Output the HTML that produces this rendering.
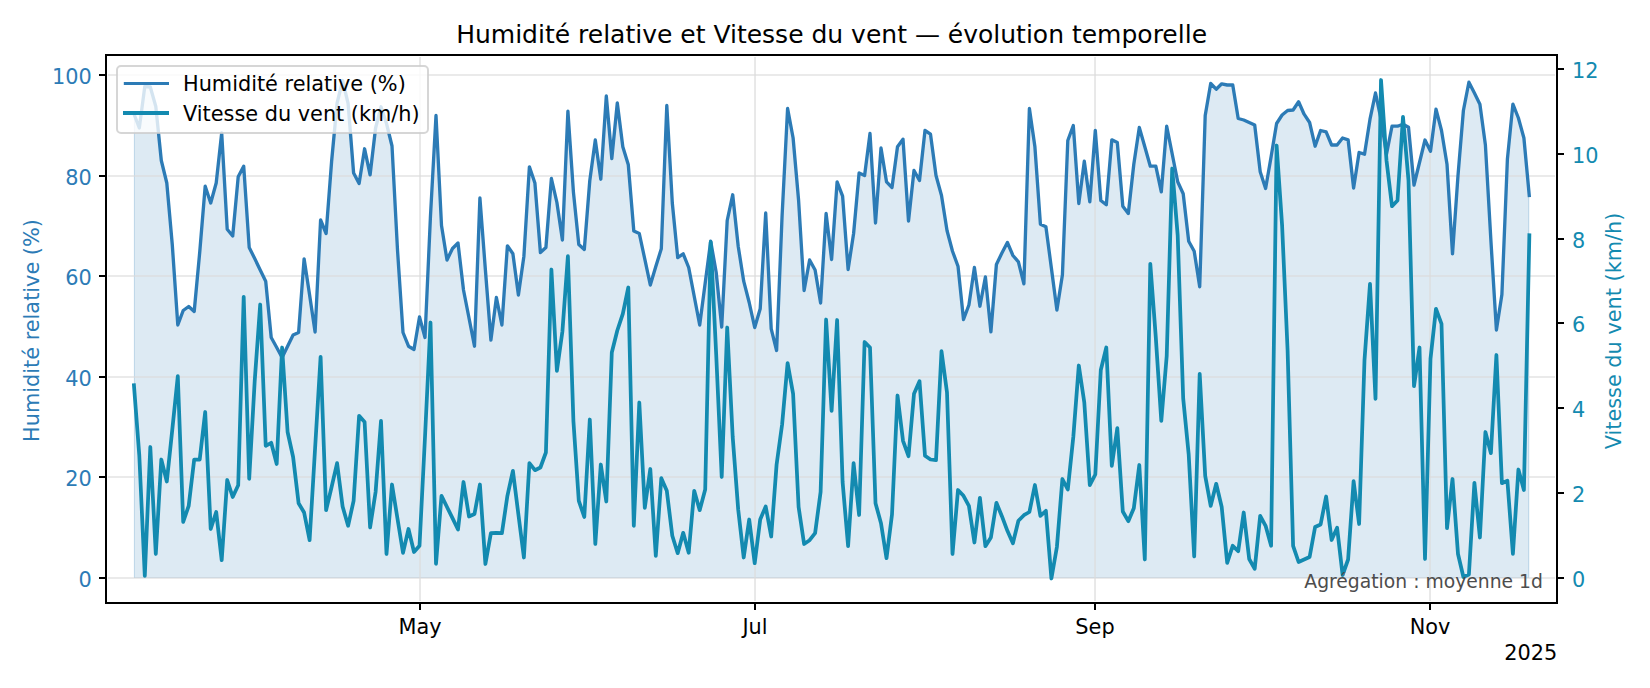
<!DOCTYPE html>
<html lang="fr"><head><meta charset="utf-8"><title>Humidité relative et Vitesse du vent</title>
<style>
html,body{margin:0;padding:0;background:#fff;}
body{width:1650px;height:688px;overflow:hidden;font-family:'DejaVu Sans','Liberation Sans',sans-serif;}
svg{display:block;}
text{font-family:'DejaVu Sans','Liberation Sans',sans-serif;}
</style></head><body>
<svg width="1650" height="688" viewBox="0 0 1650 688">
<rect width="1650" height="688" fill="#ffffff"/>
<defs><clipPath id="ax"><rect x="106.0" y="55.0" width="1451.0" height="548.0"/></clipPath></defs>

<g clip-path="url(#ax)">
<polygon points="133.8,578.0 133.8,113.5 139.3,128.0 144.8,86.5 150.3,87.0 155.8,106.5 161.3,160.5 166.8,183.0 172.3,245.0 177.8,325.0 183.2,310.5 188.7,306.5 194.2,311.5 199.7,252.5 205.2,186.2 210.7,203.0 216.2,183.0 221.7,133.0 227.2,229.2 232.7,236.0 238.2,176.8 243.7,166.2 249.2,247.5 254.7,258.5 260.2,270.0 265.7,281.2 271.2,337.5 276.7,347.5 282.1,357.5 287.6,346.2 293.1,335.0 298.6,332.5 304.1,258.8 309.6,295.0 315.1,332.0 320.6,220.0 326.1,233.5 331.6,161.5 337.1,103.0 342.6,80.5 348.1,103.5 353.6,173.0 359.1,183.5 364.6,148.8 370.1,174.8 375.6,128.0 381.0,106.8 386.5,123.5 392.0,146.0 397.5,250.0 403.0,332.5 408.5,346.2 414.0,349.5 419.5,317.0 425.0,337.5 430.5,215.5 436.0,115.5 441.5,225.5 447.0,260.0 452.5,248.5 458.0,243.0 463.5,290.0 469.0,318.0 474.5,346.2 479.9,198.0 485.4,270.0 490.9,340.0 496.4,297.5 501.9,325.0 507.4,245.8 512.9,253.8 518.4,295.0 523.9,256.2 529.4,166.8 534.9,183.0 540.4,252.5 545.9,247.5 551.4,178.5 556.9,202.5 562.4,240.0 567.9,111.2 573.4,191.8 578.8,244.5 584.3,249.5 589.8,180.5 595.3,140.0 600.8,179.2 606.3,96.0 611.8,158.5 617.3,103.0 622.8,146.8 628.3,164.8 633.8,231.0 639.3,233.5 644.8,259.2 650.3,285.0 655.8,266.5 661.3,248.8 666.8,105.5 672.3,203.0 677.7,257.5 683.2,253.8 688.7,267.5 694.2,296.2 699.7,325.0 705.2,283.0 710.7,241.2 716.2,272.5 721.7,327.0 727.2,220.5 732.7,194.8 738.2,246.2 743.7,281.2 749.2,302.5 754.7,327.5 760.2,308.8 765.7,213.0 771.2,328.8 776.6,350.5 782.1,215.5 787.6,108.5 793.1,138.0 798.6,200.5 804.1,290.5 809.6,260.0 815.1,270.0 820.6,303.0 826.1,213.5 831.6,259.5 837.1,181.8 842.6,196.2 848.1,269.5 853.6,233.5 859.1,173.0 864.6,175.5 870.0,133.5 875.5,223.0 881.0,148.0 886.5,181.8 892.0,187.5 897.5,146.8 903.0,139.2 908.5,221.0 914.0,170.5 919.5,180.5 925.0,130.5 930.5,134.2 936.0,175.5 941.5,195.5 947.0,230.5 952.5,251.2 958.0,266.2 963.5,319.5 968.9,305.0 974.4,267.5 979.9,306.2 985.4,277.0 990.9,331.8 996.4,264.5 1001.9,253.0 1007.4,242.5 1012.9,255.5 1018.4,261.8 1023.9,283.8 1029.4,108.5 1034.9,146.8 1040.4,224.2 1045.9,226.8 1051.4,268.2 1056.9,310.0 1062.4,275.0 1067.8,140.5 1073.3,125.5 1078.8,203.5 1084.3,161.2 1089.8,201.8 1095.3,130.5 1100.8,200.5 1106.3,204.8 1111.8,139.8 1117.3,142.5 1122.8,206.2 1128.3,213.5 1133.8,164.2 1139.3,127.5 1144.8,146.8 1150.3,166.2 1155.8,166.2 1161.3,191.8 1166.7,126.2 1172.2,154.0 1177.7,181.8 1183.2,193.8 1188.7,241.2 1194.2,251.2 1199.7,286.8 1205.2,115.5 1210.7,83.5 1216.2,89.2 1221.7,83.8 1227.2,85.0 1232.7,84.8 1238.2,118.5 1243.7,120.0 1249.2,122.5 1254.7,125.0 1260.2,171.8 1265.6,188.5 1271.1,156.8 1276.6,123.5 1282.1,115.0 1287.6,110.5 1293.1,110.0 1298.6,101.8 1304.1,114.2 1309.6,122.5 1315.1,146.2 1320.6,130.5 1326.1,131.8 1331.6,145.0 1337.1,145.0 1342.6,138.0 1348.1,139.8 1353.6,188.0 1359.1,152.5 1364.5,154.2 1370.0,119.2 1375.5,93.0 1381.0,119.2 1386.5,154.2 1392.0,126.2 1397.5,126.2 1403.0,124.2 1408.5,127.2 1414.0,185.0 1419.5,162.5 1425.0,140.0 1430.5,151.2 1436.0,109.2 1441.5,130.5 1447.0,164.2 1452.5,253.8 1458.0,175.5 1463.4,110.5 1468.9,82.2 1474.4,93.0 1479.9,104.2 1485.4,145.0 1490.9,240.5 1496.4,330.0 1501.9,294.5 1507.4,159.2 1512.9,104.2 1518.4,118.0 1523.9,138.0 1529.4,197.1 1529.4,578.0" fill="#2c7bb6" fill-opacity="0.16"/>
<g stroke="#2c7bb6" stroke-opacity="0.16" stroke-width="1">
<line x1="134.5" y1="113.5" x2="134.5" y2="578"/>
<line x1="1528.5" y1="197.1" x2="1528.5" y2="578"/>
<line x1="134" y1="577.5" x2="1529" y2="577.5"/>
</g>
</g>
<g stroke="#dcdcdc" stroke-opacity="0.77" stroke-width="1.67" fill="none">
<line x1="420" y1="57.0" x2="420" y2="601.0"/>
<line x1="755" y1="57.0" x2="755" y2="601.0"/>
<line x1="1095" y1="57.0" x2="1095" y2="601.0"/>
<line x1="1430" y1="57.0" x2="1430" y2="601.0"/>
<line x1="108.0" y1="578.0" x2="1555.0" y2="578.0"/>
<line x1="108.0" y1="477.0" x2="1555.0" y2="477.0"/>
<line x1="108.0" y1="377.0" x2="1555.0" y2="377.0"/>
<line x1="108.0" y1="276.0" x2="1555.0" y2="276.0"/>
<line x1="108.0" y1="176.0" x2="1555.0" y2="176.0"/>
<line x1="108.0" y1="75.0" x2="1555.0" y2="75.0"/>
</g>
<g clip-path="url(#ax)">
<polyline points="133.8,113.5 139.3,128.0 144.8,86.5 150.3,87.0 155.8,106.5 161.3,160.5 166.8,183.0 172.3,245.0 177.8,325.0 183.2,310.5 188.7,306.5 194.2,311.5 199.7,252.5 205.2,186.2 210.7,203.0 216.2,183.0 221.7,133.0 227.2,229.2 232.7,236.0 238.2,176.8 243.7,166.2 249.2,247.5 254.7,258.5 260.2,270.0 265.7,281.2 271.2,337.5 276.7,347.5 282.1,357.5 287.6,346.2 293.1,335.0 298.6,332.5 304.1,258.8 309.6,295.0 315.1,332.0 320.6,220.0 326.1,233.5 331.6,161.5 337.1,103.0 342.6,80.5 348.1,103.5 353.6,173.0 359.1,183.5 364.6,148.8 370.1,174.8 375.6,128.0 381.0,106.8 386.5,123.5 392.0,146.0 397.5,250.0 403.0,332.5 408.5,346.2 414.0,349.5 419.5,317.0 425.0,337.5 430.5,215.5 436.0,115.5 441.5,225.5 447.0,260.0 452.5,248.5 458.0,243.0 463.5,290.0 469.0,318.0 474.5,346.2 479.9,198.0 485.4,270.0 490.9,340.0 496.4,297.5 501.9,325.0 507.4,245.8 512.9,253.8 518.4,295.0 523.9,256.2 529.4,166.8 534.9,183.0 540.4,252.5 545.9,247.5 551.4,178.5 556.9,202.5 562.4,240.0 567.9,111.2 573.4,191.8 578.8,244.5 584.3,249.5 589.8,180.5 595.3,140.0 600.8,179.2 606.3,96.0 611.8,158.5 617.3,103.0 622.8,146.8 628.3,164.8 633.8,231.0 639.3,233.5 644.8,259.2 650.3,285.0 655.8,266.5 661.3,248.8 666.8,105.5 672.3,203.0 677.7,257.5 683.2,253.8 688.7,267.5 694.2,296.2 699.7,325.0 705.2,283.0 710.7,241.2 716.2,272.5 721.7,327.0 727.2,220.5 732.7,194.8 738.2,246.2 743.7,281.2 749.2,302.5 754.7,327.5 760.2,308.8 765.7,213.0 771.2,328.8 776.6,350.5 782.1,215.5 787.6,108.5 793.1,138.0 798.6,200.5 804.1,290.5 809.6,260.0 815.1,270.0 820.6,303.0 826.1,213.5 831.6,259.5 837.1,181.8 842.6,196.2 848.1,269.5 853.6,233.5 859.1,173.0 864.6,175.5 870.0,133.5 875.5,223.0 881.0,148.0 886.5,181.8 892.0,187.5 897.5,146.8 903.0,139.2 908.5,221.0 914.0,170.5 919.5,180.5 925.0,130.5 930.5,134.2 936.0,175.5 941.5,195.5 947.0,230.5 952.5,251.2 958.0,266.2 963.5,319.5 968.9,305.0 974.4,267.5 979.9,306.2 985.4,277.0 990.9,331.8 996.4,264.5 1001.9,253.0 1007.4,242.5 1012.9,255.5 1018.4,261.8 1023.9,283.8 1029.4,108.5 1034.9,146.8 1040.4,224.2 1045.9,226.8 1051.4,268.2 1056.9,310.0 1062.4,275.0 1067.8,140.5 1073.3,125.5 1078.8,203.5 1084.3,161.2 1089.8,201.8 1095.3,130.5 1100.8,200.5 1106.3,204.8 1111.8,139.8 1117.3,142.5 1122.8,206.2 1128.3,213.5 1133.8,164.2 1139.3,127.5 1144.8,146.8 1150.3,166.2 1155.8,166.2 1161.3,191.8 1166.7,126.2 1172.2,154.0 1177.7,181.8 1183.2,193.8 1188.7,241.2 1194.2,251.2 1199.7,286.8 1205.2,115.5 1210.7,83.5 1216.2,89.2 1221.7,83.8 1227.2,85.0 1232.7,84.8 1238.2,118.5 1243.7,120.0 1249.2,122.5 1254.7,125.0 1260.2,171.8 1265.6,188.5 1271.1,156.8 1276.6,123.5 1282.1,115.0 1287.6,110.5 1293.1,110.0 1298.6,101.8 1304.1,114.2 1309.6,122.5 1315.1,146.2 1320.6,130.5 1326.1,131.8 1331.6,145.0 1337.1,145.0 1342.6,138.0 1348.1,139.8 1353.6,188.0 1359.1,152.5 1364.5,154.2 1370.0,119.2 1375.5,93.0 1381.0,119.2 1386.5,154.2 1392.0,126.2 1397.5,126.2 1403.0,124.2 1408.5,127.2 1414.0,185.0 1419.5,162.5 1425.0,140.0 1430.5,151.2 1436.0,109.2 1441.5,130.5 1447.0,164.2 1452.5,253.8 1458.0,175.5 1463.4,110.5 1468.9,82.2 1474.4,93.0 1479.9,104.2 1485.4,145.0 1490.9,240.5 1496.4,330.0 1501.9,294.5 1507.4,159.2 1512.9,104.2 1518.4,118.0 1523.9,138.0 1529.4,197.1" fill="none" stroke="#2c7bb6" stroke-width="3.33" stroke-linejoin="round" stroke-linecap="butt"/>
<polyline points="133.8,383.3 139.3,455.5 144.8,575.8 150.3,447.0 155.8,554.0 161.3,459.5 166.8,481.5 172.3,429.5 177.8,376.2 183.2,522.0 188.7,505.8 194.2,459.5 199.7,459.5 205.2,412.0 210.7,529.0 216.2,512.0 221.7,560.2 227.2,480.0 232.7,497.0 238.2,485.2 243.7,296.8 249.2,478.8 254.7,381.2 260.2,304.5 265.7,445.8 271.2,442.8 276.7,464.0 282.1,347.5 287.6,432.0 293.1,457.0 298.6,503.2 304.1,512.5 309.6,540.2 315.1,448.2 320.6,356.8 326.1,510.2 331.6,487.0 337.1,463.2 342.6,506.5 348.1,525.8 353.6,500.8 359.1,415.8 364.6,422.0 370.1,527.5 375.6,492.0 381.0,420.8 386.5,554.0 392.0,484.5 397.5,518.8 403.0,552.8 408.5,529.0 414.0,552.0 419.5,545.8 425.0,437.0 430.5,322.5 436.0,563.8 441.5,495.8 447.0,507.0 452.5,518.2 458.0,529.5 463.5,482.0 469.0,516.5 474.5,514.0 479.9,484.5 485.4,564.0 490.9,533.2 496.4,532.8 501.9,533.2 507.4,495.8 512.9,470.8 518.4,514.5 523.9,557.5 529.4,463.2 534.9,470.2 540.4,467.5 545.9,452.5 551.4,269.5 556.9,370.8 562.4,331.5 567.9,256.2 573.4,420.8 578.8,500.8 584.3,517.0 589.8,419.5 595.3,544.0 600.8,464.5 606.3,501.5 611.8,352.5 617.3,330.5 622.8,313.8 628.3,287.5 633.8,525.8 639.3,402.5 644.8,507.8 650.3,469.0 655.8,555.8 661.3,478.2 666.8,490.8 672.3,535.8 677.7,553.2 683.2,532.8 688.7,552.8 694.2,490.8 699.7,510.2 705.2,489.5 710.7,242.0 716.2,354.5 721.7,477.0 727.2,327.5 732.7,437.0 738.2,509.5 743.7,557.5 749.2,519.5 754.7,563.2 760.2,519.5 765.7,506.5 771.2,536.5 776.6,464.5 782.1,424.5 787.6,363.2 793.1,393.8 798.6,507.0 804.1,544.0 809.6,540.2 815.1,533.2 820.6,492.0 826.1,319.5 831.6,410.8 837.1,320.0 842.6,482.0 848.1,546.2 853.6,463.2 859.1,515.0 864.6,342.0 870.0,347.5 875.5,503.2 881.0,523.2 886.5,558.2 892.0,514.5 897.5,395.5 903.0,440.8 908.5,456.2 914.0,393.8 919.5,381.2 925.0,455.8 930.5,459.5 936.0,460.2 941.5,351.2 947.0,392.5 952.5,554.0 958.0,490.0 963.5,495.8 968.9,505.8 974.4,542.5 979.9,497.8 985.4,546.2 990.9,537.5 996.4,502.8 1001.9,516.2 1007.4,530.8 1012.9,543.2 1018.4,520.8 1023.9,515.2 1029.4,512.0 1034.9,485.0 1040.4,515.8 1045.9,510.8 1051.4,578.5 1056.9,547.0 1062.4,479.0 1067.8,489.5 1073.3,437.0 1078.8,365.5 1084.3,402.5 1089.8,485.2 1095.3,474.5 1100.8,370.0 1106.3,347.5 1111.8,465.8 1117.3,428.2 1122.8,511.5 1128.3,521.2 1133.8,508.2 1139.3,465.0 1144.8,559.5 1150.3,263.8 1155.8,337.5 1161.3,420.8 1166.7,356.2 1172.2,168.5 1177.7,235.5 1183.2,398.5 1188.7,454.5 1194.2,556.5 1199.7,373.8 1205.2,475.8 1210.7,505.8 1216.2,483.8 1221.7,507.0 1227.2,562.8 1232.7,545.8 1238.2,551.2 1243.7,512.5 1249.2,559.0 1254.7,568.8 1260.2,515.8 1265.6,525.8 1271.1,545.8 1276.6,145.5 1282.1,225.5 1287.6,350.5 1293.1,545.8 1298.6,562.0 1304.1,559.5 1309.6,557.0 1315.1,527.0 1320.6,524.5 1326.1,496.5 1331.6,540.0 1337.1,527.8 1342.6,575.0 1348.1,559.5 1353.6,481.2 1359.1,524.0 1364.5,360.0 1370.0,283.8 1375.5,398.8 1381.0,80.0 1386.5,160.5 1392.0,206.2 1397.5,200.5 1403.0,116.8 1408.5,180.5 1414.0,386.2 1419.5,347.5 1425.0,559.0 1430.5,358.8 1436.0,308.8 1441.5,323.8 1447.0,528.2 1452.5,479.0 1458.0,554.0 1463.4,577.0 1468.9,574.5 1474.4,482.8 1479.9,537.5 1485.4,432.0 1490.9,453.2 1496.4,355.0 1501.9,483.2 1507.4,480.8 1512.9,553.8 1518.4,469.5 1523.9,490.0 1529.4,233.4" fill="none" stroke="#138ab0" stroke-width="3.75" stroke-linejoin="round" stroke-linecap="butt"/>
</g>
<text x="1542.9" y="587.7" font-size="18.75" text-anchor="end" fill="#4d4d4d">Agrégation : moyenne 1d</text>
<rect x="106.0" y="55.0" width="1451.0" height="548.0" fill="none" stroke="#000" stroke-width="2"/>
<g stroke="#000" stroke-width="2">
<line x1="420" y1="603.0" x2="420" y2="610.0"/>
<line x1="755" y1="603.0" x2="755" y2="610.0"/>
<line x1="1095" y1="603.0" x2="1095" y2="610.0"/>
<line x1="1430" y1="603.0" x2="1430" y2="610.0"/>
<line x1="99.0" y1="578.0" x2="106.0" y2="578.0"/>
<line x1="99.0" y1="477.0" x2="106.0" y2="477.0"/>
<line x1="99.0" y1="377.0" x2="106.0" y2="377.0"/>
<line x1="99.0" y1="276.0" x2="106.0" y2="276.0"/>
<line x1="99.0" y1="176.0" x2="106.0" y2="176.0"/>
<line x1="99.0" y1="75.0" x2="106.0" y2="75.0"/>
<line x1="1557.0" y1="578.0" x2="1564.0" y2="578.0"/>
<line x1="1557.0" y1="493.0" x2="1564.0" y2="493.0"/>
<line x1="1557.0" y1="408.0" x2="1564.0" y2="408.0"/>
<line x1="1557.0" y1="323.0" x2="1564.0" y2="323.0"/>
<line x1="1557.0" y1="239.0" x2="1564.0" y2="239.0"/>
<line x1="1557.0" y1="154.0" x2="1564.0" y2="154.0"/>
<line x1="1557.0" y1="69.0" x2="1564.0" y2="69.0"/>
</g>
<g font-size="20.83" fill="#2c7bb6" text-anchor="end">
<text x="91.8" y="586.9">0</text>
<text x="91.8" y="485.9">20</text>
<text x="91.8" y="385.9">40</text>
<text x="91.8" y="284.9">60</text>
<text x="91.8" y="184.9">80</text>
<text x="91.8" y="83.9">100</text>
</g>
<g font-size="20.83" fill="#138ab0" text-anchor="start">
<text x="1572" y="586.9">0</text>
<text x="1572" y="501.9">2</text>
<text x="1572" y="416.9">4</text>
<text x="1572" y="331.9">6</text>
<text x="1572" y="247.9">8</text>
<text x="1572" y="162.9">10</text>
<text x="1572" y="77.9">12</text>
</g>
<g font-size="20.83" fill="#000" text-anchor="middle">
<text x="420" y="633.6">May</text>
<text x="755" y="633.6">Jul</text>
<text x="1095" y="633.6">Sep</text>
<text x="1430" y="633.6">Nov</text>
</g>
<text x="1557.3" y="659.5" font-size="20.83" fill="#000" text-anchor="end">2025</text>
<text transform="translate(38.7,330.5) rotate(-90)" font-size="20.83" fill="#2c7bb6" text-anchor="middle">Humidité relative (%)</text>
<text transform="translate(1620.5,331) rotate(-90)" font-size="20.83" fill="#138ab0" text-anchor="middle">Vitesse du vent (km/h)</text>
<text x="831.6" y="43" font-size="25" fill="#000" text-anchor="middle">Humidité relative et Vitesse du vent — évolution temporelle</text>
<rect x="117" y="66" width="311" height="67" rx="4" ry="4" fill="#ffffff" fill-opacity="0.8" stroke="#cccccc" stroke-opacity="0.8" stroke-width="2"/>
<line x1="123.8" y1="83.5" x2="169" y2="83.5" stroke="#2c7bb6" stroke-width="3.2"/>
<line x1="123" y1="113" x2="169" y2="113" stroke="#138ab0" stroke-width="4"/>
<text x="183" y="90.7" font-size="20.83" fill="#000">Humidité relative (%)</text>
<text x="183" y="121.2" font-size="20.83" fill="#000">Vitesse du vent (km/h)</text>
</svg></body></html>
